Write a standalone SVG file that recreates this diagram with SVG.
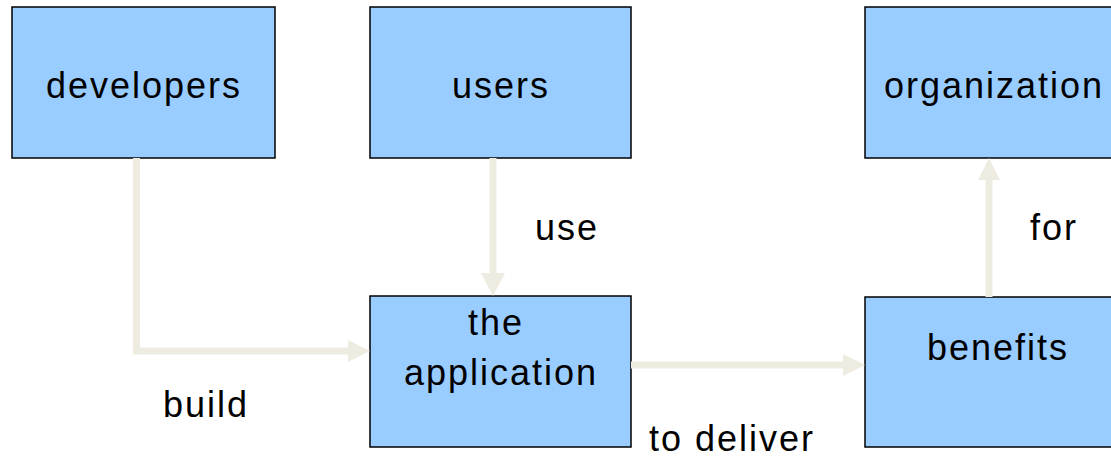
<svg xmlns="http://www.w3.org/2000/svg" width="1111" height="458" viewBox="0 0 1111 458">
<style>
.box{fill:#99CCFF;stroke:#000;stroke-width:1.5}
.t{font-family:"Liberation Sans",Arial,sans-serif;font-size:36px;letter-spacing:2px;fill:#000;text-anchor:middle}
.l{font-family:"Liberation Sans",Arial,sans-serif;font-size:36px;letter-spacing:2px;fill:#000}
.c{fill:none;stroke:#EEECE1;stroke-width:7}
.h{fill:#EEECE1}
</style>
<rect width="1111" height="458" fill="#fff"/>
<g id="developers"><rect class="box" x="12" y="7" width="263" height="151"/><text class="t" x="144" y="98">developers</text></g>
<g id="users"><rect class="box" x="370" y="7" width="261" height="151"/><text class="t" x="501" y="98">users</text></g>
<g id="organization"><rect class="box" x="865" y="7" width="263" height="151"/><text class="t" x="994" y="98">organization</text></g>
<g id="application"><rect class="box" x="370" y="296" width="261" height="151"/><text class="t" x="496" y="335">the</text><text class="t" x="501" y="385">application</text></g>
<g id="benefits"><rect class="box" x="865" y="297" width="263" height="150"/><text class="t" x="998" y="360">benefits</text></g>
<g id="connectors">
<path class="c" d="M136.5 158 V351 H349"/>
<polygon class="h" points="348,340 370,351 348,362"/>
<path class="c" d="M493 158 V275"/>
<polygon class="h" points="481,273 505,273 493,296"/>
<path class="c" d="M631 365 H845"/>
<polygon class="h" points="843,354 865,365 843,376"/>
<path class="c" d="M989 297 V178"/>
<polygon class="h" points="978,180 1000,180 989,158"/>
</g>
<g id="labels">
<text class="l" x="163" y="417">build</text>
<text class="l" x="535" y="240">use</text>
<text class="l" x="649" y="451">to deliver</text>
<text class="l" x="1030" y="240">for</text>
</g>
</svg>
